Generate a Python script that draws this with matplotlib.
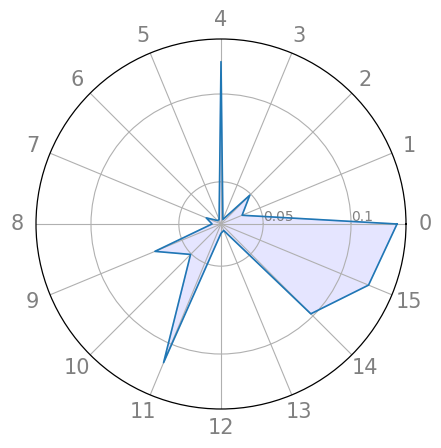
import matplotlib.pyplot as plt
import numpy as np

# Data
categories = [str(i) for i in range(16)]
values = [0.1262, 0.0390, 0.0492, 0.0288, 0.1184, 0.0288, 0.0288, 0.0351,
          0.0311, 0.0667, 0.0505, 0.1114, 0.0313, 0.0300, 0.0983, 0.1169]
r_ticks = [0.05, 0.1]
r_tick_labels = ["0.05", "0.1"]

n = len(categories)
angles = np.linspace(0, 2 * np.pi, n, endpoint=False).tolist()
angles_closed = angles + angles[:1]
values_closed = values + values[:1]

fig = plt.figure(figsize=(4.41, 4.48), dpi=100)
ax = fig.add_axes([36 / 441, 39 / 448, 370 / 441, 370 / 448], polar=True)

ax.plot(angles_closed, values_closed, color='#1f77b4', linewidth=1.2)
ax.fill(angles_closed, values_closed, color='b', alpha=0.1)

ax.set_xticks(angles)
ax.set_xticklabels(categories, color='grey', fontsize=15)
ax.tick_params(axis='x', pad=3)

ax.set_rlim(0.026, 0.1313)
ax.set_yticks(r_ticks)
ax.set_yticklabels(r_tick_labels, color='grey', fontsize=10)
ax.set_rlabel_position(0)

ax.grid(True, color='#b0b0b0', linewidth=0.8)
ax.spines['polar'].set_linewidth(0.9)

fig.savefig('out.png', dpi=100)
